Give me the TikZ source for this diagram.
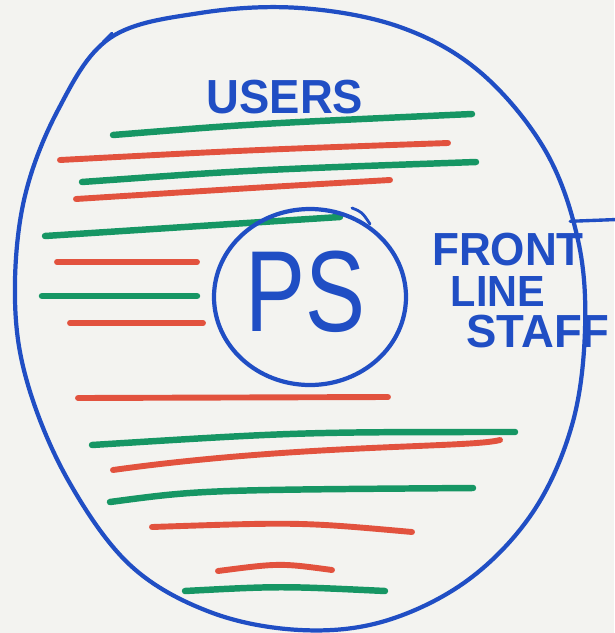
\documentclass[tikz,border=0pt]{standalone}
\usepackage{fontspec}
\setmainfont{Liberation Sans}
\usepackage{xcolor}
\usetikzlibrary{calc}
\definecolor{paper}{RGB}{243,243,240}
\definecolor{pen}{RGB}{32,78,196}
\definecolor{gpen}{RGB}{22,150,100}
\definecolor{rpen}{RGB}{226,82,62}

\begin{document}
\begin{tikzpicture}[x=0.025cm,y=-0.025cm]
            \tikzstyle{blue}=[pen, line width=3pt, line cap=round]
            \tikzstyle{green}=[gpen, line width=4.6pt, line cap=round]
            \tikzstyle{red}=[rpen, line width=4.2pt, line cap=round]
            \tikzstyle{every node}=[text=pen, font=\bfseries, inner sep=0pt]
            \fill[paper] (0,0) rectangle (614,633);
            \useasboundingbox (0,0) rectangle (614,633);
            % outer ring
            \draw[blue] plot[smooth cycle, tension=0.6] coordinates {(110,38) (200,13) (300,8) (400,27) (480,72) (545,150) (578,240) (585,330) (572,425) (533,512) (468,580) (385,621) (300,630) (210,612) (130,565) (68,480) (28,385) (15,300) (24,200) (58,110)};
            \draw[blue, line width=2pt] (103,42)--(112,33);
            % upper strokes
            \draw[green] (113,135) .. controls (250,124) .. (472,114);
            \draw[red] (60,160) .. controls (250,150) .. (448,143);
            \draw[green] (82,182) .. controls (250,170) .. (476,162);
            \draw[red] (76,199) .. controls (250,188) .. (390,180);
            \draw[green] (45,236) .. controls (200,226) .. (340,217);
            \draw[red] (57,262)--(197,262);
            \draw[green] (42,296)--(197,296);
            \draw[red] (70,323)--(203,323);
            % lower strokes
            \draw[red] (78,398)--(388,397);
            \draw[green] (92,445) .. controls (300,432) .. (515,432);
            \draw[red] (113,470) .. controls (300,444) and (470,448) .. (500,440);
            \draw[green] (110,502) .. controls (200,490) .. (473,488);
            \draw[red] (152,527) .. controls (300,522) .. (412,532);
            \draw[red] (218,571) .. controls (280,563) .. (332,570);
            \draw[green] (185,591) .. controls (280,586) .. (385,591);
            % centre
            \draw[blue] (310,297) ellipse [x radius=96, y radius=88];
            \draw[blue, line width=2pt] (352,208) .. controls (362,212) .. (370,224);
            \node (ps) at (305,292) {\fontsize{82}{82}\selectfont\mdseries\scalebox{0.78}[1]{PS}};
            % labels
            \node (users) at (285,97) {\fontsize{34}{34}\selectfont\scalebox{0.95}[1]{USERS}};
            \node (front) at (508,250) {\fontsize{33}{33}\selectfont\scalebox{0.95}[1]{FRONT}};
            \node (line) at (498,291) {\fontsize{31}{31}\selectfont\scalebox{0.95}[1]{LINE}};
            \node (staff) at (538,332) {\fontsize{33}{33}\selectfont\scalebox{0.98}[1]{STAFF}};
            \draw[blue, line width=2.4pt] ($(front.north east)+(-14,-12)$) -- ++(52,-2);
\end{tikzpicture}
\end{document}
